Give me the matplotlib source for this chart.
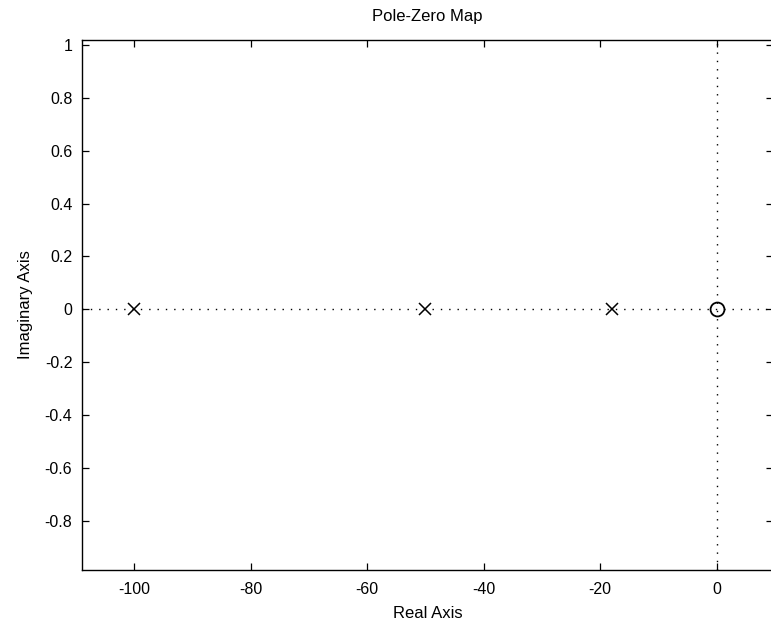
import numpy as np
import matplotlib
matplotlib.use("Agg")
import matplotlib.pyplot as plt

plt.rcParams['font.family'] = ['Liberation Sans', 'DejaVu Sans']
plt.rcParams['axes.unicode_minus'] = False

# Poles and zeros of the system (real, imaginary).
pole_re = [-100, -50, -18]
pole_im = [0, 0, 0]
zero_re = [0]
zero_im = [0]

x_ticks = [-100, -80, -60, -40, -20, 0]
y_ticks = [-0.8, -0.6, -0.4, -0.2, 0, 0.2, 0.4, 0.6, 0.8, 1]
y_labels = ["-0.8", "-0.6", "-0.4", "-0.2", "0", "0.2", "0.4", "0.6", "0.8", "1"]

fig = plt.figure(figsize=(7.71, 6.28), dpi=100)
ax = fig.add_axes([0.1064, 0.0924, 0.8962, 0.8439])

ax.set_xlim(-109, 9.7)
ax.set_ylim(-0.985, 1.018)

# Dotted lines through the origin.
ax.axhline(0, color="black", linestyle=(0, (1, 5)), linewidth=1.0, zorder=1)
ax.axvline(0, color="black", linestyle=(0, (1, 5)), linewidth=1.0, zorder=1)

ax.plot(pole_re, pole_im, linestyle="none", marker="x", markersize=8.5,
        markeredgewidth=1.1, color="black", zorder=3)
ax.plot(zero_re, zero_im, linestyle="none", marker="o", markersize=10,
        markeredgewidth=1.3, markerfacecolor="none", markeredgecolor="black", zorder=3)

ax.set_xticks(x_ticks)
ax.set_yticks(y_ticks)
ax.set_yticklabels(y_labels)
ax.tick_params(direction="in", length=5, width=0.9, top=True, right=True,
               labelsize=11.5, colors="black")
ax.tick_params(axis="x", pad=9)
ax.tick_params(axis="y", pad=7)
for s in ax.spines.values():
    s.set_linewidth(1.0)
# right edge of the axes falls just off the picture
ax.spines["right"].set_visible(False)

ax.set_title("Pole-Zero Map", fontsize=12, pad=14)
ax.set_xlabel("Real Axis", fontsize=12, labelpad=6)
ax.set_ylabel("Imaginary Axis", fontsize=12, labelpad=8)

fig.savefig("out.png", dpi=100)
